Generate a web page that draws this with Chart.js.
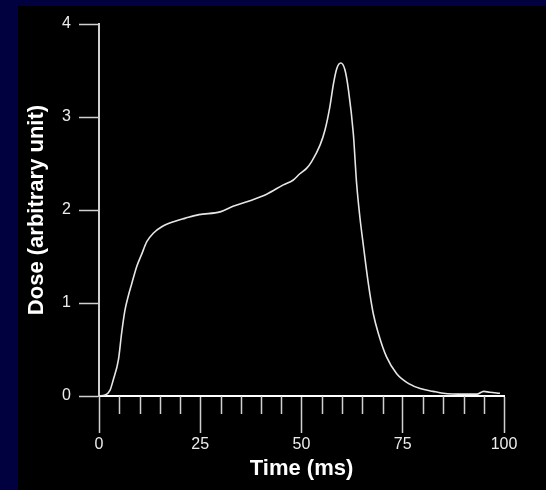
<!DOCTYPE html>
<html>
<head>
<meta charset="utf-8">
<script src="https://cdn.jsdelivr.net/npm/chart.js@4/dist/chart.umd.min.js"></script>
<style>
  html, body { margin: 0; padding: 0; background: #010140; width: 546px; height: 490px; overflow: hidden; }
  #panel { position: absolute; left: 18px; top: 6px; width: 528px; height: 484px; background: #000; }
  canvas { display: block; }
</style>
</head>
<body>
<div id="panel"><canvas id="doseChart" width="528" height="484"></canvas></div>
<script>
  // dose curve (time in ms, dose in arbitrary unit)
  const timeMs = [0, 1.5, 2.7, 3.5, 4.8, 5.6, 6.4, 7.2, 8.1, 9.3, 10.5, 11.8, 13.4, 15.5, 18.8, 21.2, 24.7,
    29.9, 33.1, 37.3, 41.4, 45.5, 47.9, 49.6, 51.3, 52.5, 54.6, 55.8, 57.0, 57.9, 58.7, 59.7, 60.7,
    61.6, 62.8, 63.6, 64.4, 65.3, 66.5, 67.7, 69.0, 71.0, 73.5, 76.6, 79.3, 82.5, 85, 90, 93.3, 95, 96.5, 99];
  const dose = [0, 0.01, 0.06, 0.17, 0.39, 0.68, 0.92, 1.07, 1.21, 1.39, 1.52, 1.66, 1.75, 1.82, 1.88, 1.91, 1.95,
    1.98, 2.04, 2.10, 2.17, 2.27, 2.32, 2.39, 2.45, 2.52, 2.70, 2.86, 3.11, 3.36, 3.52, 3.58, 3.51,
    3.29, 2.82, 2.29, 1.93, 1.61, 1.21, 0.89, 0.67, 0.42, 0.24, 0.13, 0.08, 0.05, 0.03, 0.02, 0.02, 0.05, 0.04, 0.03];

  const xLabelEvery = 25;   // labelled (long) ticks
  const xMinorStep = 5;     // short ticks in between
  const yStep = 1;

  const AXIS = "#d0d0d0";
  const TEXT = "#ececec";
  const tickFont = { family: "'Liberation Sans Narrow', 'Liberation Sans', Arial", size: 16 };
  const titleFont = { family: "'Liberation Sans', Arial", size: 22, weight: "bold" };

  const isMajor = (v) => v % xLabelEvery === 0;

  // short minor ticks under the x axis
  const minorTicks = {
    id: "minorTicks",
    afterDraw(chart) {
      const sx = chart.scales.x;
      const y0 = chart.chartArea.bottom;
      const c = chart.ctx;
      c.save();
      c.strokeStyle = AXIS;
      c.lineWidth = 1.5;
      sx.ticks.forEach((t) => {
        if (isMajor(t.value)) return;
        const px = Math.round(sx.getPixelForValue(t.value)) + 0.5;
        c.beginPath();
        c.moveTo(px, y0);
        c.lineTo(px, y0 + 18);
        c.stroke();
      });
      c.restore();
    }
  };

  new Chart(document.getElementById("doseChart"), {
    type: "line",
    data: {
      datasets: [{
        data: timeMs.map((t, i) => ({ x: t, y: dose[i] })),
        borderColor: "#e6e6e6",
        borderWidth: 1.6,
        pointRadius: 0,
        cubicInterpolationMode: "monotone",
        fill: false
      }]
    },
    options: {
      responsive: false,
      animation: false,
      layout: { padding: { left: 0, top: 18, right: 42, bottom: 0 } },
      plugins: { legend: { display: false }, tooltip: { enabled: false } },
      scales: {
        x: {
          type: "linear",
          min: 0, max: 100,
          afterFit(s) { s.height = 94; },
          border: { display: true, color: "#ffffff", width: 2 },
          grid: {
            drawOnChartArea: false,
            tickLength: 37,
            tickWidth: 1.5,
            tickColor: (ctx) => (ctx.tick && isMajor(ctx.tick.value) ? AXIS : "rgba(0,0,0,0)")
          },
          ticks: {
            stepSize: xMinorStep,
            autoSkip: false,
            maxRotation: 0,
            padding: 2,
            color: TEXT,
            font: tickFont,
            callback: (v) => (isMajor(v) ? String(v) : "")
          },
          title: {
            display: true,
            text: "Time (ms)",
            color: "#ffffff",
            font: titleFont,
            padding: { top: 0, bottom: 8 }
          }
        },
        y: {
          min: 0, max: 4,
          afterFit(s) { s.width = 81; },
          border: { display: true, color: AXIS, width: 2 },
          grid: { drawOnChartArea: false, tickLength: 20, tickWidth: 1.5, tickColor: AXIS },
          ticks: { stepSize: yStep, padding: 8, color: TEXT, font: tickFont },
          title: {
            display: true,
            text: "Dose (arbitrary unit)",
            color: "#ffffff",
            font: titleFont,
            padding: { top: 6, bottom: 0 }
          }
        }
      }
    },
    plugins: [minorTicks]
  });
</script>
</body>
</html>
